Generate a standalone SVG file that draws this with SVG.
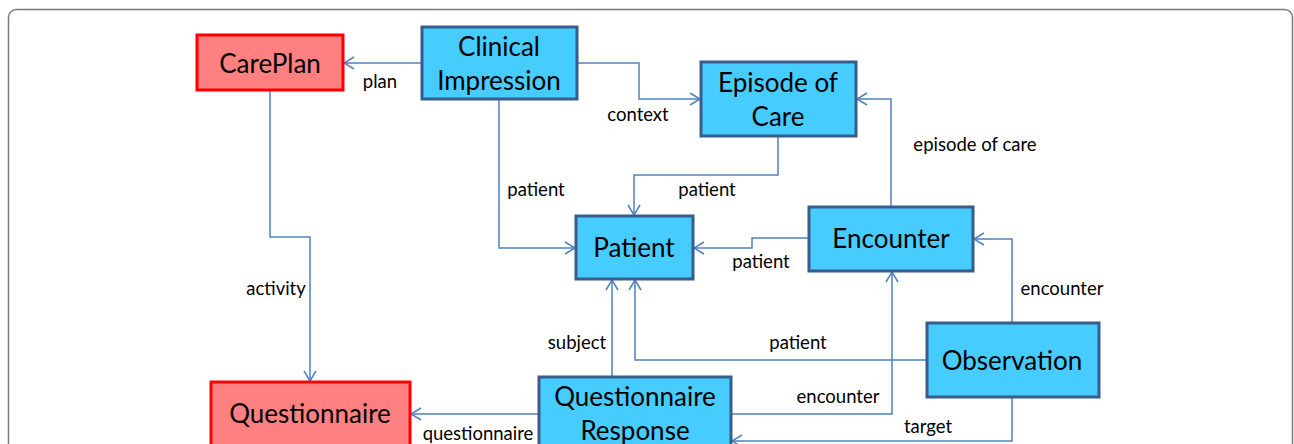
<svg xmlns="http://www.w3.org/2000/svg" width="1294" height="444" viewBox="0 0 1294 444">
<style>
.frame{fill:#fff;stroke:#7a7a7a;stroke-width:1.5}
.blue{fill:#47CCFF;stroke:#385D8A;stroke-width:3}
.red{fill:#FF8080;stroke:#FF0000;stroke-width:3}
.nt{font-family:Lato,"Liberation Sans",sans-serif;font-size:26px;fill:#000;text-anchor:middle}
.lbl{font-family:Lato,"Liberation Sans",sans-serif;font-size:18.5px;fill:#000;text-anchor:middle}
.c{fill:none;stroke:#4F81BD;stroke-width:1.5;marker-end:url(#arr)}
</style>
<defs>
<marker id="arr" markerWidth="12" markerHeight="14" refX="11" refY="7" orient="auto" markerUnits="userSpaceOnUse">
<path d="M1,1 L11,7 L1,13" fill="none" stroke="#4F81BD" stroke-width="1.5"/>
</marker>
</defs>
<rect class="frame" x="8.5" y="9.5" width="1284" height="470" rx="8"/>
<g id="connectors">
<path class="c" d="M422,63 H344"/>
<path class="c" d="M577,63 H639 V99 H700"/>
<path class="c" d="M499,99 V248 H575"/>
<path class="c" d="M778,136 V175 H634 V215"/>
<path class="c" d="M891,207 V99 H857"/>
<path class="c" d="M809,238 H752 V248 H694"/>
<path class="c" d="M1012,323 V239 H974"/>
<path class="c" d="M926,360 H635 V280"/>
<path class="c" d="M612,377 V280"/>
<path class="c" d="M731,414 H892 V272"/>
<path class="c" d="M1012,397 V441 H732"/>
<path class="c" d="M539,414 H411"/>
<path class="c" d="M270,90 V237 H310 V381"/>
<text class="lbl" x="380" y="88">plan</text>
<text class="lbl" x="638" y="121">context</text>
<text class="lbl" x="536" y="196">patient</text>
<text class="lbl" x="707" y="196">patient</text>
<text class="lbl" x="975" y="151">episode of care</text>
<text class="lbl" x="761" y="268">patient</text>
<text class="lbl" x="1062" y="295">encounter</text>
<text class="lbl" x="276" y="295">activity</text>
<text class="lbl" x="577" y="349">subject</text>
<text class="lbl" x="798" y="349">patient</text>
<text class="lbl" x="838" y="403">encounter</text>
<text class="lbl" x="928" y="433">target</text>
<text class="lbl" x="478" y="440">questionnaire</text>
</g>
<g id="careplan"><rect class="red" x="197" y="35" width="146" height="55"/><text class="nt" x="270" y="73">CarePlan</text></g>
<g id="clinical-impression"><rect class="blue" x="422" y="27" width="155" height="72"/><text class="nt" x="499" y="56">Clinical</text><text class="nt" x="499" y="90">Impression</text></g>
<g id="episode-of-care"><rect class="blue" x="701" y="62" width="155" height="74"/><text class="nt" x="778" y="92">Episode of</text><text class="nt" x="778" y="126">Care</text></g>
<g id="patient"><rect class="blue" x="576" y="216" width="117" height="63"/><text class="nt" x="634" y="257">Patient</text></g>
<g id="encounter"><rect class="blue" x="809" y="207" width="164" height="64"/><text class="nt" x="891" y="248">Encounter</text></g>
<g id="observation"><rect class="blue" x="927" y="323" width="172" height="74"/><text class="nt" x="1012" y="370">Observation</text></g>
<g id="questionnaire-response"><rect class="blue" x="539" y="377" width="192" height="80"/><text class="nt" x="635" y="406">Questionnaire</text><text class="nt" x="635" y="440">Response</text></g>
<g id="questionnaire"><rect class="red" x="211" y="382" width="199" height="80"/><text class="nt" x="310" y="423">Questionnaire</text></g>
</svg>
